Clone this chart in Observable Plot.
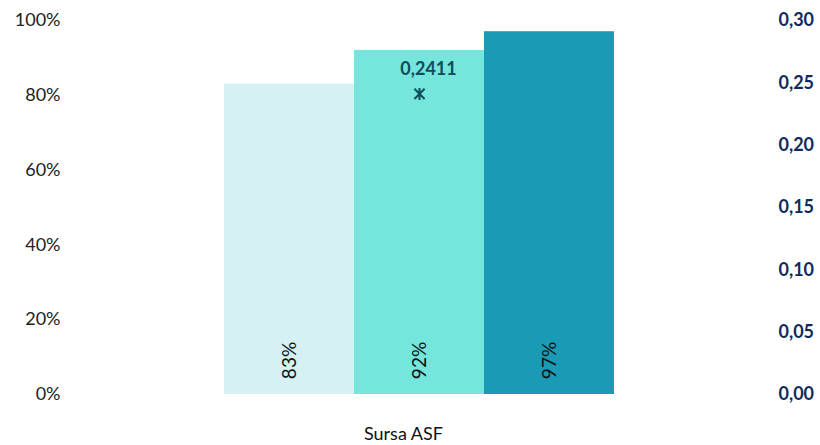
<!DOCTYPE html>
<html><head><meta charset="utf-8">
<script src="https://cdn.jsdelivr.net/npm/d3@7"></script>
<script src="https://cdn.jsdelivr.net/npm/@observablehq/plot@0.6"></script>
<style>body{margin:0;background:#fff} svg{font-family:Lato,sans-serif}</style>
</head><body><div id="chart"></div>
<script>
const categories = ["Sursa ASF"];
const series = ["Seria 1", "Seria 2", "Seria 3"];
const shares = [0.83, 0.92, 0.97];
const barColors = ["#d5f1f3", "#74e6db", "#1a9ab5"];
const indexValue = [0.2411];
const leftTicks = [0, 0.2, 0.4, 0.6, 0.8, 1];
const rightTicks = [0, 0.05, 0.10, 0.15, 0.20, 0.25, 0.30];
const rightMax = 0.30;

const bars = series.map((s, i) => ({series: s, share: shares[i]}));
const points = categories.map((c, i) => ({category: c, value: indexValue[i]}));
const fmtPct = d3.format(".0%");
const fmtComma = (d, n) => d.toFixed(n).replace(".", ",");

// Excel-style "star" marker: vertical stroke plus an X
const starMarker = {
  draw(context, size) {
    const r = Math.sqrt(size / Math.PI);
    const k = r * 0.85;
    context.moveTo(0, -r); context.lineTo(0, r);
    context.moveTo(-k, -k); context.lineTo(k, k);
    context.moveTo(-k, k); context.lineTo(k, -k);
  }
};

const chart = Plot.plot({
  width: 820, height: 445,
  marginLeft: 75, marginRight: 89, marginTop: 20, marginBottom: 51,
  style: {fontFamily: "Lato, sans-serif", fontSize: "18px", color: "#222", background: "#fff"},
  x: {domain: series, range: [223, 615], padding: 0, axis: null},
  y: {domain: [0, 1], axis: null},
  color: {domain: series, range: barColors},
  marks: [
    Plot.barY(bars, {x: "series", y: "share", fill: "series"}),
    Plot.text(bars, {x: "series", y: 0, text: d => fmtPct(d.share), rotate: -90, dy: -34, fill: "#111", fontSize: 19}),
    Plot.axisY({anchor: "left", ticks: leftTicks, tickFormat: fmtPct, tickSize: 0, tickPadding: 15, fill: "#222", label: null}),
    Plot.axisY({anchor: "right", ticks: rightTicks.map(t => t / rightMax), tickFormat: d => fmtComma(d * rightMax, 2), tickSize: 0, tickPadding: 47, fontWeight: "bold", fill: "#0f2a5c", label: null}),
    Plot.dot(points, {x: () => series[1], y: d => d.value / rightMax, symbol: starMarker, r: 6, stroke: "#0f4c5c", strokeWidth: 2}),
    Plot.text(points, {x: () => series[1], y: d => d.value / rightMax, text: d => fmtComma(d.value, 4), dy: -25, dx: 9, fontWeight: "bold", fill: "#0f4c5c"}),
    Plot.text(categories, {frameAnchor: "bottom", text: d => d, dy: 45, fill: "#111"})
  ]
});
document.getElementById("chart").appendChild(chart);
</script>
</body></html>
